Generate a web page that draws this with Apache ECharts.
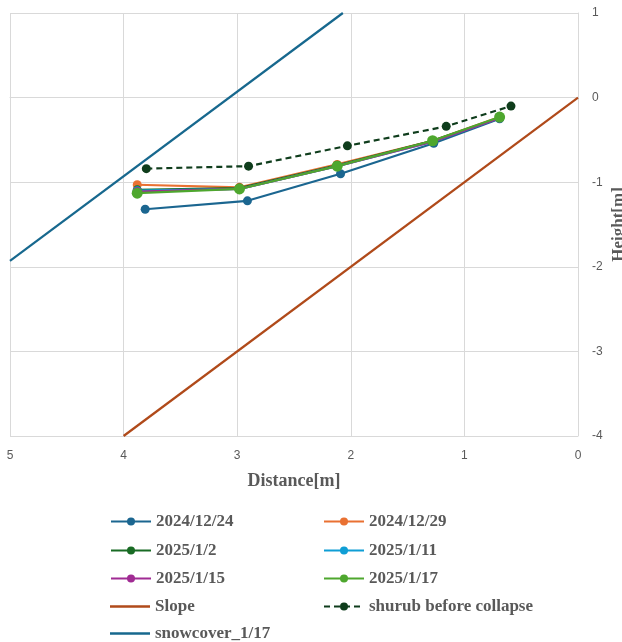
<!DOCTYPE html>
<html><head><meta charset="utf-8">
<script src="https://cdn.jsdelivr.net/npm/echarts@6/dist/echarts.min.js"></script>
<style>html,body{margin:0;padding:0;background:#fff}#c{width:622px;height:642px}</style>
</head><body><div id="c"></div>
<script>
const xTicks = [5, 4, 3, 2, 1, 0];
const yTicks = [1, 0, -1, -2, -3, -4];
const names = ['2024/12/24','2024/12/29','2025/1/2','2025/1/11','2025/1/15','2025/1/17','Slope','shurub before collapse','snowcover_1/17'];
const x1224 = [3.81, 2.91, 2.09, 1.27, 0.69];
const y1224 = [-1.32, -1.22, -0.90, -0.54, -0.25];
const xOther = [3.88, 2.98, 2.12, 1.28, 0.69];
const y1229 = [-1.03, -1.06, -0.79, -0.51, -0.23];
const y0102 = [-1.09, -1.07, -0.80, -0.51, -0.24];
const y0111 = [-1.10, -1.08, -0.81, -0.52, -0.24];
const y0115 = [-1.11, -1.08, -0.81, -0.52, -0.24];
const y0117 = [-1.13, -1.08, -0.81, -0.51, -0.23];
const xShrub = [3.80, 2.90, 2.03, 1.16, 0.59];
const yShrub = [-0.84, -0.81, -0.57, -0.34, -0.10];
const xSlope = [0, 4];
const ySlope = [0, -4];
const xSnow = [5, 2.07];
const ySnow = [-1.93, 1.0];

const zip = (xs, ys) => xs.map((x, i) => [x, ys[i]]);
const colors = ['#1B6690','#E97132','#196B24','#0F9ED5','#A02B93','#4EA72E','#B04A1A','#0F3D1C','#17688E'];
const lbl = {fontFamily:'"Liberation Serif", serif', fontWeight:'bold', fontSize:17, color:'#595959'};

function mk(i, data, opts) {
  return Object.assign({
    name: names[i], type:'line', data: data, symbol:'circle', symbolSize:9,
    lineStyle:{width:2.2, color:colors[i]}, itemStyle:{color:colors[i]},
    emphasis:{disabled:true}, animation:false, clip:true
  }, opts || {});
}

// legend layout: [series index, column, row, plain line icon]
const legendPos = [[0,0,0,false],[1,1,0,false],[2,0,1,false],[3,1,1,false],[4,0,2,false],[5,1,2,false],[6,0,3,true],[7,1,3,false],[8,0,4,true]];
const colLeft = [110, 323];
const rowCenter = [520, 549, 577, 605, 632];
const legends = legendPos.map(([i, c, r, plain]) => ({
  data:[plain ? {name:names[i], icon:'rect'} : names[i]], orient:'horizontal',
  left:colLeft[c], top:rowCenter[r] - 7, padding:0,
  itemWidth:40, itemHeight: plain ? 2.5 : 10, textStyle:lbl, selectedMode:false
}));

const chart = echarts.init(document.getElementById('c'));
chart.setOption({
  backgroundColor:'#fff',
  animation:false,
  grid:{left:10, right:44, top:13, bottom:206, containLabel:false, outerBoundsMode:'none'},
  xAxis:{type:'value', inverse:true, min:0, max:5, interval:1,
    axisLine:{show:true, lineStyle:{color:'#D9D9D9'}}, axisTick:{show:false},
    splitLine:{show:true, lineStyle:{color:'#D9D9D9', width:1}},
    axisLabel:{color:'#595959', fontSize:12, fontFamily:'"Liberation Sans", Arial', margin:14,
      formatter: v => xTicks.includes(v) ? String(v) : ''},
    name:'Distance[m]', nameLocation:'middle', nameGap:36,
    nameTextStyle:{fontFamily:'"Liberation Serif", serif', fontWeight:'bold', fontSize:18, color:'#595959'}},
  yAxis:{type:'value', position:'right', min:-4, max:1, interval:1,
    axisLine:{show:true, onZero:false, lineStyle:{color:'#D9D9D9'}}, axisTick:{show:false},
    splitLine:{show:true, lineStyle:{color:'#D9D9D9', width:1}},
    axisLabel:{color:'#595959', fontSize:12, fontFamily:'"Liberation Sans", Arial', margin:14,
      formatter: v => yTicks.includes(v) ? String(v) : ''},
    name:'Height[m]', nameLocation:'middle', nameGap:32, nameRotate:90, nameMoveOverlap:false,
    nameTextStyle:{fontFamily:'"Liberation Serif", serif', fontWeight:'bold', fontSize:17, color:'#595959'}},
  legend: legends,
  series:[
    mk(6, zip(xSlope, ySlope), {symbol:'none'}),
    mk(8, zip(xSnow, ySnow), {symbol:'none'}),
    mk(0, zip(x1224, y1224)),
    mk(1, zip(xOther, y1229)),
    mk(2, zip(xOther, y0102)),
    mk(3, zip(xOther, y0111)),
    mk(4, zip(xOther, y0115)),
    mk(5, zip(xOther, y0117), {symbolSize:11}),
    mk(7, zip(xShrub, yShrub), {lineStyle:{width:2.2, color:colors[7], type:[6,4]}})
  ]
});
</script></body></html>
